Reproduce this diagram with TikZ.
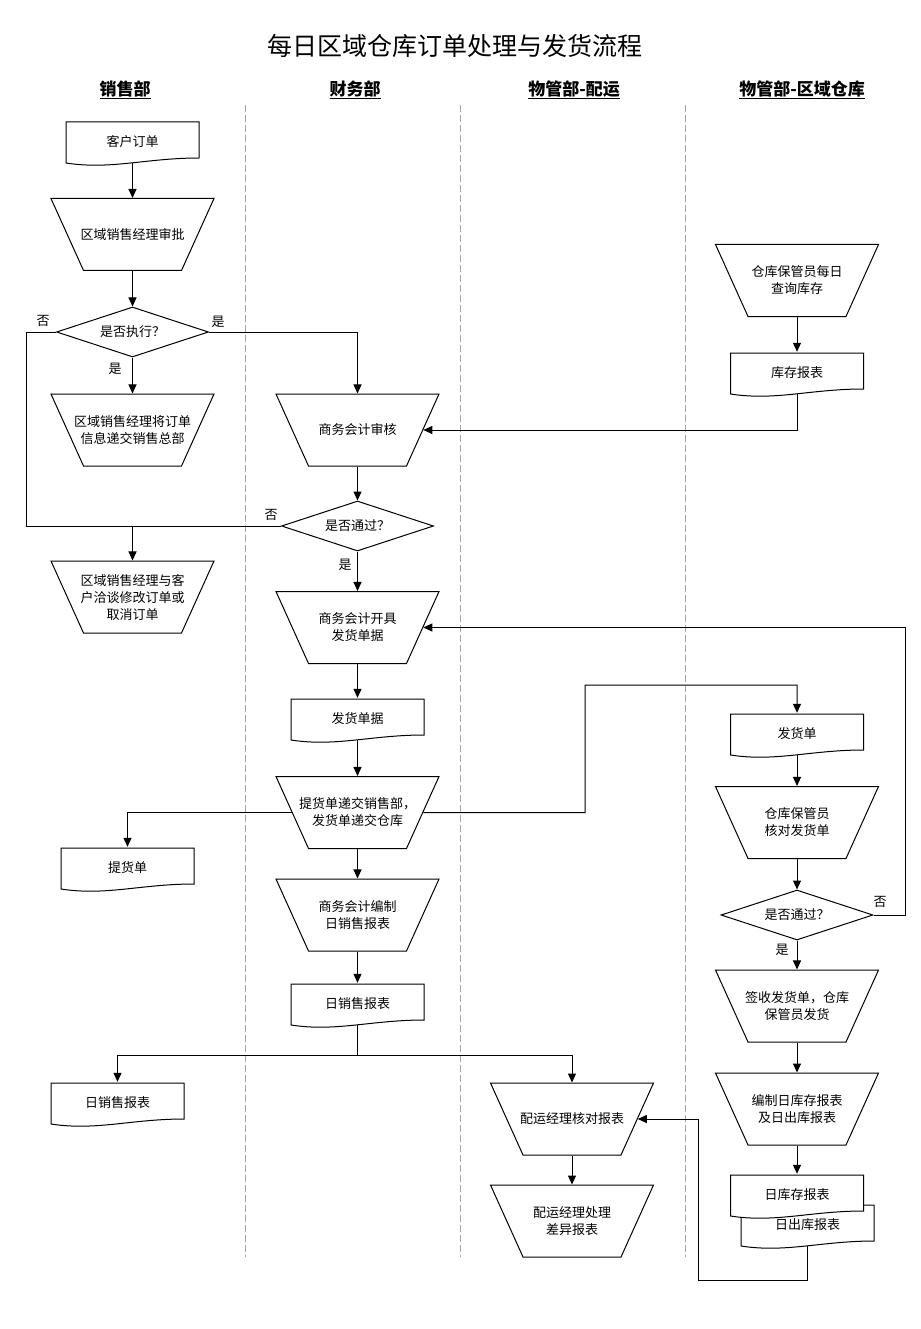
\documentclass[tikz,border=0pt]{standalone}
\usepackage{fontspec}
\setmainfont{Noto Sans CJK SC}
\usetikzlibrary{shapes.geometric,arrows.meta}
\newcommand\docnode[4]{%
  \draw[fill=white,line width=1pt] ({#2-66.5},{#3-20}) -- ({#2+66.5},{#3-20}) -- ({#2+66.5},{#3+16})
    .. controls ({#2+13.5},{#3+16}) and ({#2-21.5},{#3+28}) .. ({#2-66.5},{#3+21}) -- cycle;
  \node[docbox] (#1) at (#2,#3) {#4};
}

\begin{document}
\begin{tikzpicture}
    [x=1pt, y=-1pt,
      every node/.style={font=\fontsize{13}{17}\selectfont},
      txt/.style={align=center},
      head/.style={font=\fontsize{17}{20}\selectfont\bfseries},
      proc/.style={draw, line width=1pt, trapezium, trapezium angle=65.7,
        shape border rotate=180, trapezium stretches body=true,
        text height=72pt, text depth=0pt, text width=0pt,
        minimum width=163pt, minimum height=72pt, inner sep=0pt},
      decide/.style={draw, line width=1pt, diamond, aspect=3,
        minimum width=152pt, minimum height=50pt, inner sep=0pt},
      docbox/.style={minimum width=133pt, minimum height=42pt, inner sep=0pt, align=center},
      flow/.style={line width=1pt, -{Triangle[length=9pt,width=8pt]}},
      link/.style={line width=1pt},
      lane/.style={gray!70, line width=0.8pt, dash pattern=on 7pt off 3pt}]
    \useasboundingbox (0,0) rectangle (920,1329);
    \node[font=\fontsize{25}{30}\selectfont] (title) at (455,46) {每日区域仓库订单处理与发货流程};
    \node[head] (h1) at (125,90) {\underline{销售部}};
    \node[head] (h2) at (355,90) {\underline{财务部}};
    \node[head] (h3) at (574,90) {\underline{物管部-配运}};
    \node[head] (h4) at (802,90) {\underline{物管部-区域仓库}};
    \foreach \lx in {245,460,685}
      \draw[lane] (\lx,105) -- (\lx,1257);

    \docnode{cust}{132.5}{142}{客户订单}
    \node[proc, label={[txt]center:区域销售经理审批}] (appr) at (132.5,234.5) {};
    \node[decide] (d1) at (132.5,332) {是否执行？};
    \node[proc, label={[txt]center:{区域销售经理将订单\\信息递交销售总部}}] (fwd) at (132.5,430) {};
    \node[proc, label={[txt]center:{区域销售经理与客\\户洽谈修改订单或\\取消订单}}] (nego) at (132.5,597) {};
    \docnode{pick}{127.5}{868}{提货单}
    \docnode{dsr2}{117.5}{1103}{日销售报表}

    \node[proc, label={[txt]center:商务会计审核}] (audit) at (357.5,430) {};
    \node[decide] (d2) at (357.5,526) {是否通过？};
    \node[proc, label={[txt]center:{商务会计开具\\发货单据}}] (issue) at (357.5,627.5) {};
    \docnode{slip}{357.5}{719}{发货单据}
    \node[proc, label={[txt]center:{提货单递交销售部，\\发货单递交仓库}}] (hand) at (357.5,812.5) {};
    \node[proc, label={[txt]center:{商务会计编制\\日销售报表}}] (daily) at (357.5,915) {};
    \docnode{dsr}{357.5}{1004}{日销售报表}

    \node[proc, label={[txt]center:配运经理核对报表}] (check) at (572,1119) {};
    \node[proc, label={[txt]center:{配运经理处理\\差异报表}}] (diff) at (572,1221) {};

    \node[proc, label={[txt]center:{仓库保管员每日\\查询库存}}] (stock) at (797,280.5) {};
    \docnode{rep}{797}{373}{库存报表}
    \docnode{ship}{797}{734}{发货单}
    \node[proc, label={[txt]center:{仓库保管员\\核对发货单}}] (verify) at (797,822.5) {};
    \node[decide] (d3) at (797,915) {是否通过？};
    \node[proc, label={[txt]center:{签收发货单，仓库\\保管员发货}}] (sign) at (797,1006) {};
    \node[proc, label={[txt]center:{编制日库存报表\\及日出库报表}}] (compile) at (797,1109) {};
    \docnode{outrep}{807.5}{1225}{日出库报表}
    \docnode{inv}{797}{1195}{日库存报表}

    \node (no1) at (43,321) {否};
    \node (yes1) at (218,322) {是};
    \node (yes2) at (115,369) {是};
    \node (no2) at (271,515) {否};
    \node (yes3) at (345,565) {是};
    \node (no3) at (880,902) {否};
    \node (yes4) at (782,950) {是};

    \coordinate (jn) at (132.5,526);
    \coordinate (split) at (357.5,1055);

    \draw[flow] (cust) -- (appr);
    \draw[flow] (appr) -- (d1);
    \draw[flow] (d1) -- (fwd);
    \draw[flow] (d1.east) -| (audit);
    \draw[link] (d1.west) -- ++(-30,0) |- (jn);
    \draw[link] (d2.west) -- (jn);
    \draw[flow] (jn) -- (nego);
    \draw[flow] (stock) -- (rep);
    \draw[flow] (rep.south) |- (audit);
    \draw[flow] (audit) -- (d2);
    \draw[flow] (d2) -- (issue);
    \draw[flow] (d3.east) -- ++(32,0) |- (issue);
    \draw[flow] (issue) -- (slip);
    \draw[flow] (slip) -- (hand);
    \draw[flow] (hand) -| (pick);
    \draw[flow] (hand) -- (585,812.5) -- (585,685) -| (ship);
    \draw[flow] (hand) -- (daily);
    \draw[flow] (daily) -- (dsr);
    \draw[link] (dsr) -- (split);
    \draw[flow] (split) -| (dsr2);
    \draw[flow] (split) -| (check);
    \draw[flow] (check) -- (diff);
    \draw[flow] (ship) -- (verify);
    \draw[flow] (verify) -- (d3);
    \draw[flow] (d3) -- (sign);
    \draw[flow] (sign) -- (compile);
    \draw[flow] (compile) -- (inv);
    \draw[flow] (outrep.south) -- (807.5,1280) -- (698,1280) |- (check);
  \end{tikzpicture}
\end{document}
